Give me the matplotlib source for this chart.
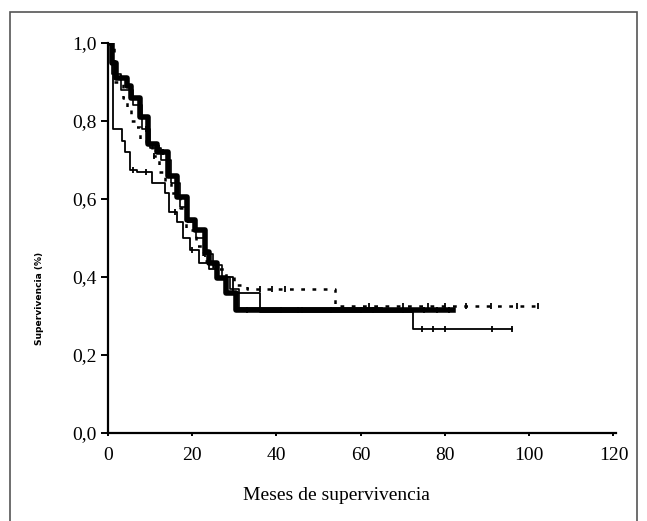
import numpy as np
import matplotlib.pyplot as plt
from matplotlib.patches import Rectangle

# Kaplan-Meier curves (step times, survival after step, end time, censored times)
t_thick = [0, 1, 2, 4.5, 5.5, 7.6, 9.5, 11.6, 14.3, 16.4, 18.8, 20.7, 23, 24, 25.9, 28, 30.5]
s_thick = [1.0, 0.95, 0.91, 0.89, 0.86, 0.81, 0.74, 0.72, 0.66, 0.605, 0.546, 0.52, 0.464, 0.436, 0.397, 0.36, 0.315]
end_thick = 82
cens_thick = [3, 8, 13, 19, 33, 41, 45, 46, 53, 60, 63, 70, 75, 78, 81]

t_thin = [0, 1.2, 3.3, 4, 5.2, 7, 10.5, 13.5, 14.5, 16.4, 17.7, 19.5, 21.5, 24, 26, 29.7, 36, 72.5]
s_thin = [1.0, 0.78, 0.75, 0.72, 0.675, 0.67, 0.64, 0.615, 0.567, 0.54, 0.50, 0.47, 0.436, 0.42, 0.40, 0.36, 0.31, 0.267]
end_thin = 96
cens_thin = [6, 9, 16, 20, 74.6, 77.2, 80, 91.2, 96]

t_dot = [0, 1.5, 3.5, 4.5, 5.5, 6.5, 7.6, 10.5, 12, 13.5, 15, 17, 18.5, 21, 22.5, 25, 28, 30, 33, 54]
s_dot = [1.0, 0.90, 0.86, 0.83, 0.80, 0.785, 0.75, 0.71, 0.67, 0.64, 0.615, 0.577, 0.52, 0.48, 0.44, 0.42, 0.40, 0.38, 0.37, 0.325]
end_dot = 102
cens_dot = [11, 36, 39, 42, 62, 70, 76, 80, 85, 91, 97, 102]

t_mid = [0, 1, 3, 6, 8, 10, 12.5, 15, 17, 19, 21, 23, 25, 27, 29, 31]
s_mid = [1.0, 0.92, 0.88, 0.84, 0.78, 0.73, 0.70, 0.64, 0.58, 0.54, 0.50, 0.46, 0.43, 0.40, 0.37, 0.32]
end_mid = 65
cens_mid = [9, 12, 14, 23]

plt.rcParams['font.family'] = ['Liberation Serif', 'DejaVu Serif']

fig = plt.figure(figsize=(6.47, 5.21), dpi=100)
fig.patches.append(Rectangle((10/647, -0.02), 627/647, 1.02 - 12/521,
                             transform=fig.transFigure, fill=False,
                             edgecolor='#555555', linewidth=1.2))
ax = fig.add_axes([108/647, 1 - 433/521, 508/647, 390/521])


def km(ax, t, s, end, cens, **kw):
    x = list(t) + [end]
    y = list(s) + [s[-1]]
    ax.step(x, y, where='post', color='black', **kw)
    cy = [s[np.searchsorted(t, c, side='right') - 1] for c in cens]
    ax.plot(cens, cy, linestyle='none', marker='|', color='black',
            markersize=5, markeredgewidth=1.3)


km(ax, t_mid, s_mid, end_mid, cens_mid, linewidth=1.2)
km(ax, t_thin, s_thin, end_thin, cens_thin, linewidth=1.3)
km(ax, t_dot, s_dot, end_dot, cens_dot, linewidth=1.8, linestyle=(0, (1.5, 3)))
km(ax, t_thick, s_thick, end_thick, cens_thick, linewidth=4)

ax.set_xlim(0, 120.6)
ax.set_ylim(0, 1.0)
ax.set_xticks([0, 20, 40, 60, 80, 100, 120])
ax.set_yticks([0, 0.2, 0.4, 0.6, 0.8, 1.0])
ax.set_yticklabels(['0,0', '0,2', '0,4', '0,6', '0,8', '1,0'])
ax.spines['top'].set_visible(False)
ax.spines['right'].set_visible(False)
ax.spines['left'].set_linewidth(1.6)
ax.spines['bottom'].set_linewidth(1.6)
ax.tick_params(axis='y', direction='out', length=5, width=1.4, labelsize=14, pad=3)
ax.tick_params(axis='x', direction='out', length=2, width=1.4, labelsize=14, pad=8)

fig.text(39/647, 1 - 298/521, 'Supervivencia (%)', rotation=90, ha='center', va='center',
         fontsize=6.6, fontweight='bold', family=['DejaVu Sans'])
fig.text(336/647, 1 - 496/521, 'Meses de supervivencia', ha='center', va='center', fontsize=14)

fig.savefig('out.png', dpi=100)
